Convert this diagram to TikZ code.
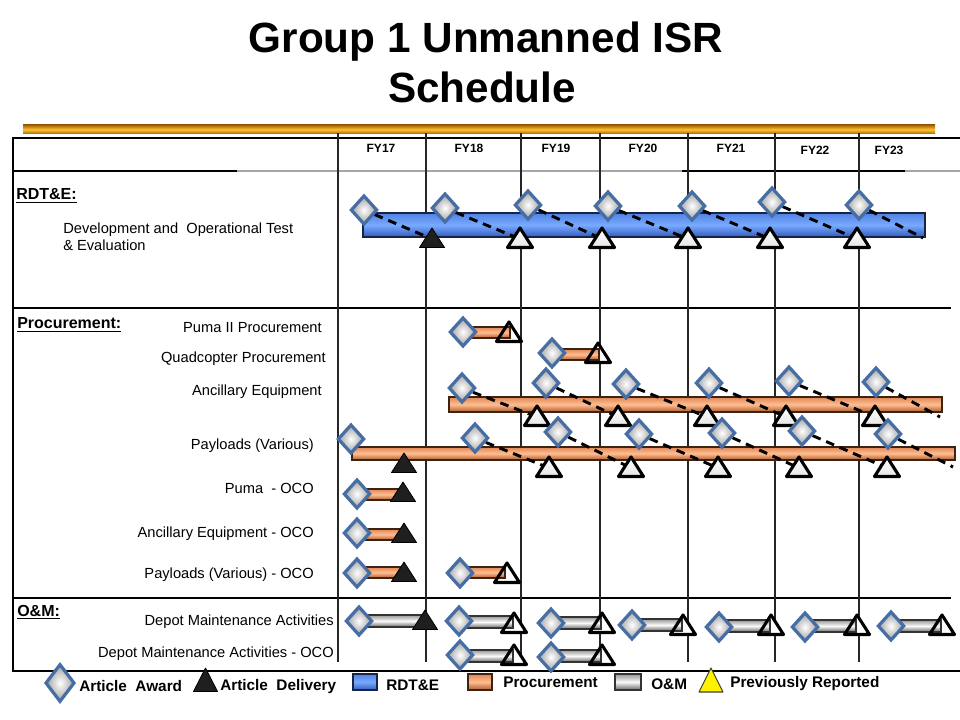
\documentclass[tikz,border=0pt]{standalone}
\usepackage{fontspec}
\setmainfont{Liberation Sans}
\usetikzlibrary{shapes.geometric}
\definecolor{goldmid}{RGB}{255,195,50}
\definecolor{golddark}{RGB}{165,100,0}
\definecolor{bluetop}{RGB}{80,130,225}
\definecolor{bluemid}{RGB}{120,170,255}
\definecolor{bluebot}{RGB}{50,90,190}
\definecolor{blueedge}{RGB}{25,35,70}
\definecolor{orgtop}{RGB}{225,135,85}
\definecolor{orgmid}{RGB}{255,190,145}
\definecolor{orgbot}{RGB}{175,90,45}
\definecolor{orgedge}{RGB}{60,35,20}
\definecolor{gtop}{RGB}{150,150,150}
\definecolor{gmid}{RGB}{250,250,250}
\definecolor{gbot}{RGB}{100,100,100}
\definecolor{awdblue}{RGB}{70,110,165}
\pgfdeclarelayer{bg}
\pgfdeclarelayer{mid}
\pgfsetlayers{bg,mid,main}
\newcommand\tri[7]{\coordinate (#1) at (#2,#3);\path[#7] (#2,#3-#5) -- (#2+#4,#3+#6) -- (#2-#4,#3+#6) -- cycle;}
\newcommand\ttri[4]{\tri{#1}{#2}{#3}{12.5}{11}{8.5}{#4}}
\newcommand\gbar[5]{\path[#5] (#1,#3-#4) rectangle (#2,#3+#4);}
\begin{document}
\begin{tikzpicture}[x=0.75pt,y=-0.75pt,
 award/.style={diamond, inner sep=0pt, minimum width=20pt, minimum height=22pt, draw=awdblue, line width=2.4pt, inner color=white, outer color=gray!75},
 legaward/.style={award, minimum width=22pt, minimum height=28.5pt},
 deliv/.style={fill=black!88, draw=black, line width=0.6pt, line join=round},
 plan/.style={top color=white, bottom color=gray!20, draw=black, line width=2.3pt, line join=round},
 planfill/.style={fill=white},
 planline/.style={draw=black, line width=2.3pt, line join=round},
 prevrep/.style={fill=yellow, draw=black!75, line width=0.8pt, line join=round},
 rdtbar/.style={draw=blueedge, line width=0.8pt, top color=bluetop, bottom color=bluebot, middle color=bluemid},
 procbar/.style={draw=orgedge, line width=0.8pt, top color=orgtop, bottom color=orgbot, middle color=orgmid},
 ombar/.style={draw=black!80, line width=0.8pt, top color=gtop, bottom color=gbot, middle color=gmid},
 goldbar/.style={top color=golddark, bottom color=golddark, middle color=goldmid},
 dashconn/.style={draw=black, line width=2.2pt, dash pattern=on 6.5pt off 4.5pt},
 lab/.style={font=\fontsize{11}{13}\selectfont, inner sep=0pt, anchor=base east},
 labl/.style={lab, anchor=base west},
 hdr/.style={font=\bfseries\fontsize{12}{14}\selectfont, inner sep=0pt, anchor=base west},
 fy/.style={font=\bfseries\fontsize{9}{11}\selectfont, inner sep=0pt, anchor=base},
 leg/.style={font=\bfseries\fontsize{11.5}{14}\selectfont, inner sep=0pt, anchor=base west},
 vline/.style={draw=black!85, line width=0.9pt},
 ttl/.style={font=\bfseries\fontsize{31.7}{38}\selectfont, inner sep=0pt, anchor=base}
]
\useasboundingbox (0,0) rectangle (960,720);

% title
\node[ttl] (title1) at (486,53) {Group 1 Unmanned ISR};
\node[ttl] (title2) at (482,103) {Schedule};

\begin{pgfonlayer}{bg}
\path[goldbar] (23,125) rectangle (935,134);
% table frame
\draw[black, line width=0.8pt] (960,138) -- (13,138) -- (13,671) -- (960,671);
\draw[gray!70, line width=0.8pt] (13,171) -- (960,171);
\draw[black, line width=0.8pt] (13,171) -- (237,171) (682,171) -- (905,171);
\draw[black, line width=1.9pt] (13,308) -- (951,308);
\draw[black, line width=1.9pt] (13,598) -- (951,598);
\foreach \x in {338,426,521,600,688,775,859} \draw[vline] (\x,133) -- (\x,662);
% white fills under short bars
\ttri{f1}{509}{333}{planfill}
\ttri{f2}{598}{354}{planfill}
\ttri{f3}{507}{574}{planfill}
\ttri{f4}{514}{624}{planfill}
\ttri{f5}{602}{624}{planfill}
\ttri{f6}{683}{626}{planfill}
\ttri{f7}{771}{626}{planfill}
\ttri{f8}{857}{626}{planfill}
\ttri{f9}{942}{626}{planfill}
\ttri{f10}{514}{656}{planfill}
\ttri{f11}{602}{656}{planfill}
\end{pgfonlayer}

% FY headers
\node[fy] (fy17) at (381,153) {FY17};
\node[fy] (fy18) at (469,153) {FY18};
\node[fy] (fy19) at (556,153) {FY19};
\node[fy] (fy20) at (643,153) {FY20};
\node[fy] (fy21) at (731,153) {FY21};
\node[fy] (fy22) at (815,155) {FY22};
\node[fy] (fy23) at (889,155) {FY23};

% row labels
\node[hdr] (hrdte) at (16,200) {\underline{RDT\&E:}};
\node[labl] (dev1) at (63,234) {Development and\ \ Operational Test};
\node[labl] (dev2) at (63,251) {\& Evaluation};
\node[hdr] (hproc) at (17,329) {\underline{Procurement:}};
\node[lab] (l1) at (322,332) {Puma II Procurement};
\node[lab] (l2) at (326,362) {Quadcopter Procurement};
\node[lab] (l3) at (322,395) {Ancillary Equipment};
\node[lab] (l4) at (314,449) {Payloads (Various)};
\node[lab] (l5) at (314,493) {Puma\ \ - OCO};
\node[lab] (l6) at (314,537) {Ancillary Equipment - OCO};
\node[lab] (l7) at (314,578) {Payloads (Various) - OCO};
\node[hdr] (hom) at (17,616) {\underline{O\&M:}};
\node[lab] (l8) at (334,625) {Depot Maintenance Activities};
\node[lab] (l9) at (334,657) {Depot Maintenance Activities - OCO};

% ---------- RDT&E ----------
\node[award] (r1) at (364,210) {};
\node[award] (r2) at (445,208) {};
\node[award] (r3) at (528,205) {};
\node[award] (r4) at (608,206) {};
\node[award] (r5) at (692,206) {};
\node[award] (r6) at (772,202) {};
\node[award] (r7) at (859,205) {};
\ttri{rt1}{432}{239}{deliv}
\ttri{rt2}{520}{239}{plan}
\ttri{rt3}{602}{239}{plan}
\ttri{rt4}{688}{239}{plan}
\ttri{rt5}{770}{239}{plan}
\ttri{rt6}{857}{239}{plan}
\coordinate (rend) at (923,238);

% ---------- Procurement ----------
\node[award] (pu1) at (463,332) {};
\ttri{put1}{509}{333}{planline}
\node[award] (q1) at (552,353) {};
\ttri{qt1}{598}{354}{planline}

\node[award] (a1) at (462,388) {};
\node[award] (a2) at (546,383) {};
\node[award] (a3) at (626,384) {};
\node[award] (a4) at (709,383) {};
\node[award] (a5) at (789,381) {};
\node[award] (a6) at (876,382) {};
\ttri{at1}{537}{417}{plan}
\ttri{at2}{618}{417}{plan}
\ttri{at3}{707}{417}{plan}
\ttri{at4}{786}{417}{plan}
\ttri{at5}{875}{417}{plan}
\coordinate (aend) at (940,417);

\node[award] (p1) at (351,439) {};
\node[award] (p2) at (475,438) {};
\node[award] (p3) at (558,432) {};
\node[award] (p4) at (639,434) {};
\node[award] (p5) at (722,433) {};
\node[award] (p6) at (802,431) {};
\node[award] (p7) at (888,434) {};
\ttri{pt0}{404}{464}{deliv}
\ttri{pt1}{549}{468}{plan}
\ttri{pt2}{631}{468}{plan}
\ttri{pt3}{718}{468}{plan}
\ttri{pt4}{799}{468}{plan}
\ttri{pt5}{887}{468}{plan}
\coordinate (pend) at (953,467);

\node[award] (po1) at (357,494) {};
\ttri{pot1}{403}{493}{deliv}
\node[award] (ao1) at (357,533) {};
\ttri{aot1}{404}{534}{deliv}
\node[award] (yo1) at (357,573) {};
\ttri{yot1}{404}{573}{deliv}
\node[award] (yo2) at (460,573) {};
\ttri{yot2}{507}{574}{planline}

% ---------- O&M ----------
\node[award] (m1) at (359,621) {};
\ttri{mt1}{425}{621}{deliv}
\node[award] (m2) at (459,621) {};
\ttri{mt2}{514}{624}{planline}
\node[award] (m3) at (551,623) {};
\ttri{mt3}{602}{624}{planline}
\node[award] (m4) at (632,625) {};
\ttri{mt4}{683}{626}{planline}
\node[award] (m5) at (719,627) {};
\ttri{mt5}{771}{626}{planline}
\node[award] (m6) at (805,627) {};
\ttri{mt6}{857}{626}{planline}
\node[award] (m7) at (891,626) {};
\ttri{mt7}{942}{626}{planline}
\node[award] (mo1) at (460,655) {};
\ttri{mot1}{514}{656}{planline}
\node[award] (mo2) at (551,657) {};
\ttri{mot2}{602}{656}{planline}

% ---------- bars and connectors (under the markers) ----------
\begin{pgfonlayer}{mid}
\path[rdtbar] (363,213) rectangle (925,237);
\gbar{463}{510}{332.5}{5.5}{procbar}
\gbar{552}{599}{354.5}{5.5}{procbar}
\gbar{449}{942}{404.5}{7.5}{procbar}
\gbar{352}{955}{453.5}{6.5}{procbar}
\gbar{357}{403}{494.5}{5.5}{procbar}
\gbar{357}{404}{534.5}{5.5}{procbar}
\gbar{357}{404}{572.5}{5.5}{procbar}
\gbar{460}{505}{572.5}{5.5}{procbar}
\gbar{359}{425}{621}{6}{ombar}
\gbar{459}{513}{622}{6}{ombar}
\gbar{551}{601}{623}{6}{ombar}
\gbar{632}{682}{625}{6}{ombar}
\gbar{719}{770}{626}{6}{ombar}
\gbar{805}{856}{626}{6}{ombar}
\gbar{891}{941}{626}{6}{ombar}
\gbar{460}{513}{656}{6}{ombar}
\gbar{551}{601}{656}{6}{ombar}
\draw[dashconn] (r1) -- (rt1);
\draw[dashconn] (r2) -- (rt2);
\draw[dashconn] (r3) -- (rt3);
\draw[dashconn] (r4) -- (rt4);
\draw[dashconn] (r5) -- (rt5);
\draw[dashconn] (r6) -- (rt6);
\draw[dashconn] (r7) -- (rend);
\draw[dashconn] (a1) -- (at1);
\draw[dashconn] (a2) -- (at2);
\draw[dashconn] (a3) -- (at3);
\draw[dashconn] (a4) -- (at4);
\draw[dashconn] (a5) -- (at5);
\draw[dashconn] (a6) -- (aend);
\draw[dashconn] (p2) -- (pt1);
\draw[dashconn] (p3) -- (pt2);
\draw[dashconn] (p4) -- (pt3);
\draw[dashconn] (p5) -- (pt4);
\draw[dashconn] (p6) -- (pt5);
\draw[dashconn] (p7) -- (pend);
\end{pgfonlayer}

% ---------- legend ----------
\node[legaward] (lga) at (60,683) {};
\node[leg] (lgat) at (79,691) {Article\ \ Award};
\tri{lgd}{205.5}{684}{12}{16}{7.5}{deliv}
\node[leg] (lgdt) at (220,690) {Article\ \ Delivery};
\path[rdtbar] (353,674) rectangle (377,690);
\node[leg] (lgr) at (386,690) {RDT\&E};
\path[procbar] (468,674) rectangle (492,690);
\node[leg] (lgp) at (503,687) {Procurement};
\path[ombar] (615,674) rectangle (641,690);
\node[leg] (lgo) at (651,689) {O\&M};
\tri{lgy}{711}{684}{12}{16}{8}{prevrep}
\node[leg] (lgyt) at (730,687) {Previously Reported};
\end{tikzpicture}
\end{document}
